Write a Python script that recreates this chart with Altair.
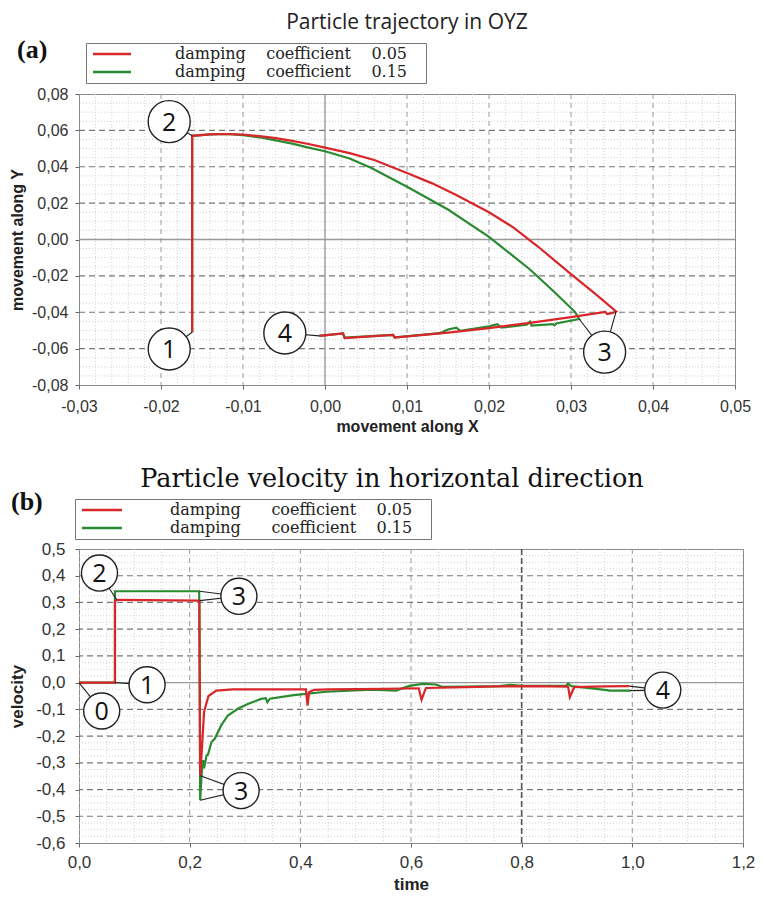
import altair as alt
import pandas as pd

RED = "#d8262a"
GREEN = "#2a8a30"
NB = "\u00a0"
ZW = "\u200b"
A_LAB05 = "damping" + NB * 4 + "coefficient" + NB * 4 + "0.05" + NB * 3 + ZW
A_LAB15 = "damping" + NB * 4 + "coefficient" + NB * 4 + "0.15" + NB * 3 + ZW
B_LAB05 = "damping" + NB * 6 + "coefficient" + NB * 4 + "0.05" + NB * 3 + ZW
B_LAB15 = "damping" + NB * 6 + "coefficient" + NB * 4 + "0.15" + NB * 3 + ZW

# ---------------- Panel (a): trajectory in OYZ ----------------
a_red_x = [-0.0162, -0.0162, -0.014, -0.012, -0.010, -0.008, -0.006, -0.004, -0.002, 0.000,
           0.003, 0.006, 0.010, 0.013, 0.016, 0.020, 0.023, 0.026, 0.030, 0.033, 0.0355,
           0.0350, 0.0344, 0.0342, 0.030, 0.025, 0.020, 0.015, 0.0085, 0.0083, 0.0024,
           0.0022, -0.0007]
a_red_y = [-0.051, 0.057, 0.0578, 0.058, 0.0577, 0.0568, 0.0557, 0.0542, 0.0525, 0.0505,
           0.0475, 0.0437, 0.0366, 0.031, 0.0245, 0.015, 0.0065, -0.004, -0.019, -0.030, -0.0395,
           -0.0405, -0.041, -0.0398, -0.0427, -0.0458, -0.0487, -0.0512, -0.054, -0.0525, -0.0542,
           -0.0517, -0.053]

a_green_x = [-0.0162, -0.0162, -0.014, -0.012, -0.010, -0.008, -0.006, -0.004, -0.002, 0.000,
             0.003, 0.0056, 0.010, 0.015, 0.020, 0.025, 0.028, 0.0305,
             0.0310, 0.0282, 0.0280, 0.0278, 0.0252, 0.0250, 0.0246, 0.0215, 0.0210, 0.0200,
             0.0165, 0.0160, 0.0150, 0.0140, 0.0085, 0.0083, 0.0024, 0.0022, -0.0007]
a_green_y = [-0.051, 0.057, 0.0578, 0.058, 0.0574, 0.0562, 0.0545, 0.0527, 0.0505, 0.0485,
             0.0445, 0.0395, 0.029, 0.0165, 0.0015, -0.0165, -0.029, -0.0399,
             -0.0437, -0.0462, -0.0472, -0.0465, -0.0474, -0.0452, -0.0468, -0.0485, -0.0466, -0.0478,
             -0.0502, -0.0485, -0.0495, -0.0515, -0.0538, -0.0525, -0.054, -0.0517, -0.053]

a_ann_label = ["2", "1", "4", "3"]
a_ann_x = [-0.0190, -0.0190, -0.0049, 0.0341]
a_ann_y = [0.0648, -0.0602, -0.0514, -0.0619]
a_lead_from = [0, 1, 2, 3, 3]
a_lead_x = [-0.0162, -0.0162, -0.0007, 0.0355, 0.0310]
a_lead_y = [0.057, -0.051, -0.053, -0.0395, -0.0437]

a_x_ticks = [-0.03, -0.02, -0.01, 0.0, 0.01, 0.02, 0.03, 0.04, 0.05]
a_y_ticks = [-0.08, -0.06, -0.04, -0.02, 0.0, 0.02, 0.04, 0.06, 0.08]
a_x_major = [-0.02, -0.01, 0.01, 0.02, 0.03, 0.04]
a_y_major = [-0.06, -0.04, -0.02, 0.02, 0.04, 0.06]
a_x_minor = [round(-0.03 + 0.002 * k, 4) for k in range(41) if k % 5 != 0]
a_y_minor = [round(-0.08 + 0.005 * k, 4) for k in range(33) if k % 4 != 0]

# ---------------- Panel (b): velocity ----------------
b_red_t = [0, 0.065, 0.065, 0.07, 0.217, 0.2175, 0.219, 0.2225, 0.226, 0.234,
           0.248, 0.278, 0.35, 0.41, 0.413, 0.416, 0.425, 0.45, 0.5, 0.55,
           0.614, 0.619, 0.627, 0.7, 0.757, 0.82, 0.884, 0.887, 0.895, 0.95, 0.995]
b_red_v = [0, 0, 0.305, 0.31, 0.307, 0.30, -0.348, -0.235, -0.11, -0.05,
           -0.03, -0.025, -0.025, -0.025, -0.086, -0.035, -0.027, -0.025, -0.024, -0.023,
           -0.021, -0.064, -0.02, -0.017, -0.014, -0.013, -0.015, -0.054, -0.017, -0.014, -0.013]

b_green_t = [0, 0.065, 0.065, 0.217, 0.2175, 0.219, 0.2205, 0.222, 0.2243, 0.226,
             0.228, 0.2306, 0.233, 0.2394, 0.2453, 0.257, 0.269, 0.287, 0.305, 0.329,
             0.3375, 0.3405, 0.345, 0.388, 0.447, 0.5286, 0.573, 0.597, 0.621, 0.645,
             0.657, 0.7, 0.76, 0.78, 0.8, 0.88, 0.884, 0.89, 0.939, 0.96, 0.996]
b_green_v = [0, 0, 0.342, 0.342, 0.30, -0.44, -0.38, -0.333, -0.29, -0.32,
             -0.30, -0.272, -0.27, -0.222, -0.21, -0.16, -0.123, -0.098, -0.08, -0.061,
             -0.058, -0.073, -0.06, -0.047, -0.034, -0.026, -0.03, -0.012, -0.005, -0.007,
             -0.016, -0.015, -0.013, -0.008, -0.012, -0.012, -0.004, -0.013, -0.024, -0.03, -0.03]

b_ann_label = ["2", "3", "1", "0", "3", "4"]
b_ann_x = [0.037, 0.289, 0.123, 0.041, 0.293, 1.055]
b_ann_y = [0.41, 0.323, -0.008, -0.106, -0.404, -0.028]
b_lead_from = [0, 1, 1, 2, 3, 4, 4, 5, 5]
b_lead_x = [0.068, 0.218, 0.218, 0.065, 0.0, 0.219, 0.219, 0.995, 0.995]
b_lead_y = [0.31, 0.342, 0.307, 0.0, 0.0, -0.348, -0.44, -0.013, -0.03]

b_x_ticks = [0.0, 0.2, 0.4, 0.6, 0.8, 1.0, 1.2]
b_y_ticks = [-0.6, -0.5, -0.4, -0.3, -0.2, -0.1, 0.0, 0.1, 0.2, 0.3, 0.4, 0.5]
b_x_major = [0.2, 0.4, 0.6, 1.0]
b_x_strong = [0.8]
b_y_major = [-0.5, -0.4, -0.3, -0.2, -0.1, 0.1, 0.2, 0.3, 0.4]
b_x_minor = [round(0.05 * k, 3) for k in range(25) if k % 4 != 0]
b_y_minor = [round(-0.6 + 0.025 * k, 4) for k in range(45) if k % 4 != 0]


def comma_expr(dec):
    return ("(datum.value < 0 ? '-' : '') + replace(format(abs(datum.value), '.%df'), '.', ',')" % dec)


def panel(xs_dom, ys_dom, red_x, red_y, green_x, green_y, labs, x_ticks, y_ticks, dec_x, dec_y,
          x_title, y_title, x_major, y_major, x_minor, y_minor, x_strong, zero_x,
          ann_label, ann_x, ann_y, lead_from, lead_x, lead_y, circ_size,
          width, height, title, panel_text, legend_pos, legend_path, legend_off,
          label_pos, fs_lab, fs_title, lab_pad_x, lab_pad_y, tit_pad_x, tit_pad_y):
    xs = alt.Scale(domain=xs_dom, nice=False, zero=False)
    ys = alt.Scale(domain=ys_dom, nice=False, zero=False)
    axx = alt.Axis(values=x_ticks, labelExpr=comma_expr(dec_x), title=x_title, grid=False,
                   domain=False, ticks=True, tickSize=4, tickColor="#666",
                   labelFont="Liberation Sans", labelFontSize=fs_lab, labelColor="#333",
                   labelFlush=False, labelOverlap=False, labelPadding=lab_pad_x,
                   titleFont="Liberation Sans", titleFontSize=fs_title, titleFontWeight="bold",
                   titleColor="#222", titlePadding=tit_pad_x)
    axy = alt.Axis(values=y_ticks, labelExpr=comma_expr(dec_y), title=y_title, grid=False,
                   domain=False, ticks=True, tickSize=4, tickColor="#666",
                   labelFont="Liberation Sans", labelFontSize=fs_lab, labelColor="#333",
                   labelFlush=False, labelOverlap=False, labelPadding=lab_pad_y,
                   titleFont="Liberation Sans", titleFontSize=fs_title, titleFontWeight="bold",
                   titleColor="#222", titlePadding=tit_pad_y)
    X = lambda f: alt.X(f, scale=xs, axis=axx, title=x_title)
    Y = lambda f: alt.Y(f, scale=ys, axis=axy, title=y_title)

    def rules(vals, channel, color, dash, width_):
        df = pd.DataFrame({"v": vals})
        m = alt.Chart(df).mark_rule(color=color, strokeDash=dash, strokeWidth=width_)
        if channel == "x":
            return m.encode(x=X("v:Q"))
        return m.encode(y=Y("v:Q"))

    color = alt.Color("s:N", scale=alt.Scale(domain=list(labs), range=[RED, GREEN]),
                      legend=alt.Legend(title=None, orient="none", legendX=legend_pos[0],
                                        legendY=legend_pos[1], direction="vertical",
                                        symbolType=legend_path, symbolSize=64,
                                        symbolStrokeWidth=2.5, symbolOffset=legend_off[0],
                                        labelFont="DejaVu Serif",
                                        labelFontSize=16, labelColor="#222", labelLimit=600,
                                        labelOffset=legend_off[1], strokeColor="#777",
                                        fillColor="white", padding=3, rowPadding=2))
    red_df = pd.DataFrame({"x": red_x, "y": red_y, "i": range(len(red_x)), "s": labs[0]})
    green_df = pd.DataFrame({"x": green_x, "y": green_y, "i": range(len(green_x)), "s": labs[1]})

    def line(df):
        return alt.Chart(df).mark_line(strokeWidth=2.2).encode(
            x=X("x:Q"), y=Y("y:Q"), order=alt.Order("i:Q"), color=color)

    ann_df = pd.DataFrame({"x": ann_x, "y": ann_y, "t": ann_label})
    lead_df = pd.DataFrame({"x": [ann_x[k] for k in lead_from], "y": [ann_y[k] for k in lead_from],
                            "x2": lead_x, "y2": lead_y})
    leaders = alt.Chart(lead_df).mark_rule(color="#222", strokeWidth=1.1).encode(
        x=X("x:Q"), y=Y("y:Q"), x2="x2:Q", y2="y2:Q")
    circles = alt.Chart(ann_df).mark_point(shape="circle", filled=True, fill="white",
                                           stroke="#222", strokeWidth=1.4, size=circ_size,
                                           opacity=1).encode(x=X("x:Q"), y=Y("y:Q"))
    texts = alt.Chart(ann_df).mark_text(font="Open Sans", fontSize=25, color="#111",
                                        baseline="middle", align="center", dy=1).encode(
        x=X("x:Q"), y=Y("y:Q"), text="t:N")
    plabel = alt.Chart(pd.DataFrame({"t": [panel_text]})).mark_text(
        font="Liberation Serif", fontWeight="bold", fontSize=26, align="left",
        baseline="alphabetic", color="#111").encode(
        x=alt.value(label_pos[0]), y=alt.value(label_pos[1]), text="t:N")

    layers = [
        rules(x_minor, "x", "#d2d2d2", [1, 2], 1),
        rules(y_minor, "y", "#d2d2d2", [1, 2], 1),
        rules(x_major, "x", "#9a9a9a", [5, 4], 1),
        rules(y_major, "y", "#777777", [6, 4], 1.2),
    ]
    if x_strong:
        layers.append(rules(x_strong, "x", "#555555", [6, 3], 1.6))
    if zero_x:
        layers.append(rules([0.0], "x", "#999999", [], 1.4))
    layers += [
        rules([0.0], "y", "#999999", [], 1.4),
        line(green_df), line(red_df), leaders, circles, texts, plabel,
    ]
    return alt.layer(*layers).properties(width=width, height=height, title=title)


top = panel([-0.03, 0.05], [-0.08, 0.08], a_red_x, a_red_y, a_green_x, a_green_y,
            (A_LAB05, A_LAB15),
            a_x_ticks, a_y_ticks, 2, 2, "movement along X", "movement along Y",
            a_x_major, a_y_major, a_x_minor, a_y_minor, [], True,
            a_ann_label, a_ann_x, a_ann_y, a_lead_from, a_lead_x, a_lead_y, 1764,
            656, 291,
            alt.TitleParams("Particle trajectory in OYZ", font="Open Sans", fontSize=21,
                            fontWeight="normal", color="#222", anchor="middle", frame="group",
                            dx=0, offset=4),
            "(a)", (7, -51), "M-4.75,0H4.75", (15, 55), (-62, -36), 16, 16, 9, 7, 4, 6)

bottom = panel([0.0, 1.2], [-0.6, 0.5], b_red_t, b_red_v, b_green_t, b_green_v,
               (B_LAB05, B_LAB15),
               b_x_ticks, b_y_ticks, 1, 1, "time", "velocity",
               b_x_major, b_y_major, b_x_minor, b_y_minor, b_x_strong, False,
               b_ann_label, b_ann_x, b_ann_y, b_lead_from, b_lead_x, b_lead_y, 1300,
               664, 294,
               alt.TitleParams("Particle velocity in horizontal direction", font="DejaVu Serif",
                               fontSize=25.5, fontWeight="normal", color="#111", anchor="middle",
                               frame="group", dx=-19, offset=-3),
               "(b)", (-4, -50), "M-5,0H5", (16, 60), (-68, -39), 17, 17, 7, 10, 6, 9)

chart = alt.concat(top, bottom, columns=1, align="none", spacing=31).resolve_scale(
    color="independent").resolve_legend(color="independent").configure_view(
    stroke="#8a8a8a", strokeWidth=1).properties(
    padding={"left": 0, "top": 3, "right": 0, "bottom": 0}, background="white")

chart.save("out.html", embed_options={"renderer": "svg", "actions": False})
